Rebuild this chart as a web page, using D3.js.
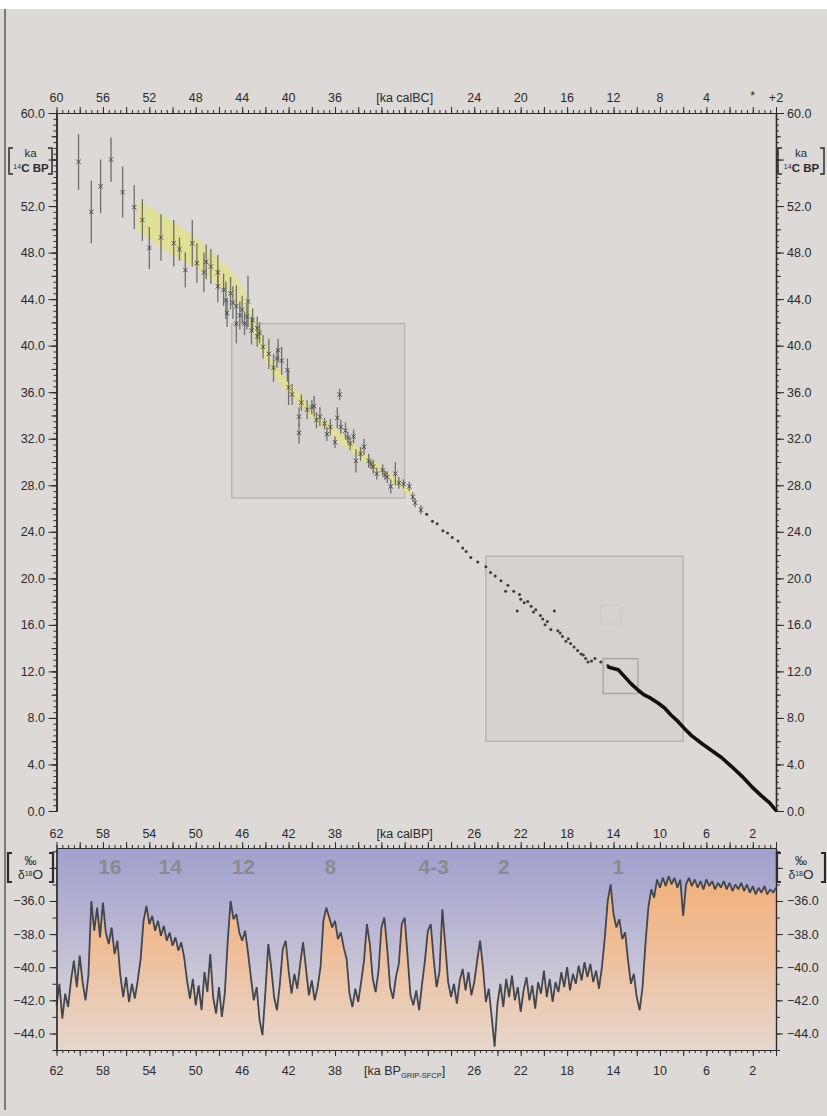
<!DOCTYPE html>
<html>
<head>
<meta charset="utf-8">
<title>14C calibration and GRIP d18O</title>
<style>
  body { margin: 0; background: #dcd9d7; }
  text { font-family: "Liberation Sans", Arial, sans-serif; }
</style>
</head>
<body>
<div id="chart"></div>
<script src="https://cdn.jsdelivr.net/npm/d3@7/dist/d3.min.js"></script>
<script>
// ---- calibration samples: cal age [ka BP], 14C age [ka], error [ka]
var sampleBP = [60.1,59.0,58.2,57.3,56.3,55.3,54.6,54.0,53.0,51.9,51.4,50.9,50.3,49.9,49.3,49.1,48.7,48.1,48.1,47.6,
  47.4,47.0,46.8,46.5,46.0,45.5,45.1,44.7,44.5,
  47.3,46.5,45.8,45.2,44.7,44.2,43.7,43.3,42.9,42.6,42.1,42.0,41.7,41.1,41.1,40.9,40.4,39.8,39.6,39.3,
  38.7,38.4,38.0,37.8,37.6,37.5,37.1,36.7,36.4,36.2,35.8,35.5,35.1,34.7,34.4,33.9,33.5,33.2,32.8,32.5,
  32.1,31.6,31.3,31.1,30.6,40.0,38.9,36.9,34.9,33.7,43.0,45.6,46.2,
  30.1,29.6,29.2,28.7,28.3,27.9,27.4,27.0,26.7,26.3,
  25.7,25.0,24.6,23.7,23.3,23.1,22.6,22.1,22.0,21.7,21.1,20.7,22.3,20.3,20.1,19.7,19.1,19.4,18.8,18.4,
  18.1,17.7,17.4,17.1,16.8,16.4,16.2,15.6,15.1,14.5,24.2,21.4,20.9,19.9,18.6,17.9,16.6,15.9];
var sampleC14 = [55.8,51.5,53.7,56.0,53.2,51.9,50.8,48.4,49.3,48.8,48.3,46.5,48.8,47.1,46.3,47.2,46.8,46.3,45.1,44.8,
  43.9,44.5,43.7,43.4,43.1,43.8,42.2,41.5,41.1,
  42.8,41.9,41.9,41.3,40.8,39.9,39.3,38.1,39.6,38.7,37.9,36.4,35.8,33.9,32.5,35.1,34.5,34.8,33.6,33.9,
  32.4,33.0,31.7,33.8,35.8,33.0,32.7,31.6,32.2,30.1,30.7,31.3,30.1,29.6,29.0,29.3,28.7,27.9,29.0,28.2,
  28.1,27.9,27.0,26.5,25.9,34.7,33.3,32.1,29.8,28.9,38.9,42.5,42.6,
  25.5,24.9,24.7,24.1,23.9,23.5,23.2,22.6,22.3,21.8,
  21.4,21.0,20.5,19.8,18.9,19.4,18.9,18.6,18.2,17.9,17.6,17.3,17.2,16.8,16.5,16.3,17.2,15.6,15.5,15.0,
  14.6,14.4,14.1,13.8,13.5,13.1,12.8,13.1,12.8,12.5,20.2,18.0,17.1,16.0,15.3,14.8,13.4,12.9];
var sampleErr = [2.4,2.7,2.3,1.9,2.2,1.9,1.8,1.8,2.0,2.0,1.0,1.5,2.0,1.7,1.7,1.5,1.5,1.5,1.4,1.4,
  1.6,1.4,1.4,1.8,1.2,2.2,1.0,1.0,0.9,
  1.2,1.7,1.0,1.2,0.9,1.0,1.3,1.2,1.0,1.2,1.0,1.5,0.9,0.8,0.9,0.7,0.8,0.9,0.7,0.8,
  0.6,0.7,0.5,0.9,0.5,0.6,0.7,0.6,0.6,1.0,0.6,0.7,0.6,0.6,0.5,0.5,0.5,0.6,1.0,0.5,
  0.4,0.4,0.4,0.4,0.4,0.6,0.5,0.5,0.4,0.4,0.8,1.1,1.2,
  0.3,0.3,0.3,0.3,0.3,0.3,0.3,0.3,0.3,0.3,
  0.2,0.2,0.2,0.2,0.2,0.2,0.2,0.2,0.2,0.2,0.2,0.2,0.2,0.2,0.2,0.2,0.2,0.2,0.2,0.2,
  0.2,0.2,0.2,0.2,0.2,0.2,0.2,0.2,0.2,0.2,0.2,0.2,0.2,0.2,0.2,0.2,0.2,0.2];

// ---- dense (tree-ring) part of the curve
var denseBP  = [14.4,13.6,13.05,12.5,11.9,11.4,10.8,10.2,9.6,9.05,8.45,7.9,7.3,6.4,5.55,4.7,3.8,2.95,2.1,1.25,0.55,0.0];
var denseC14 = [12.35,12.15,11.55,10.95,10.4,10.0,9.7,9.3,8.85,8.25,7.7,7.1,6.5,5.8,5.2,4.6,3.8,3.0,2.1,1.3,0.7,0.05];

// ---- yellow envelope
var bandBP = [55.0,52.2,48.8,45.6,44.2,40.7,36.4,32.1,31.4];
var bandHi = [52.5,50.8,48.2,44.2,40.5,35.5,31.6,28.1,27.5];
var bandLo = [49.9,47.9,45.8,42.2,39.0,34.5,30.7,27.5,27.0];

// ---- zoom boxes [BP from, BP to, 14C top, 14C bottom]
var boxBP0 = [46.9, 25.0, 14.9, 15.1];
var boxBP1 = [32.0, 8.0, 11.9, 13.4];
var boxTop = [41.9, 21.9, 13.1, 17.7];
var boxBot = [26.9, 6.0, 10.1, 16.1];
var boxStroke = ["#b6b3b1", "#b6b3b1", "#a9a6a4", "#cfccca"];

// ---- GRIP d18O, one value every 0.25 ka from 62 ka BP to 0
var isoStart = 62, isoStep = 0.25;
var isoValues = [
  -42.3,-41.0,-43.1,-41.6,-42.4,-40.8, -39.6,-41.2,-39.3,-40.9,-42.0,-40.5,
  -36.0,-37.8,-36.4,-38.2,-36.1,-37.9, -38.6,-37.6,-39.2,-38.4,-40.5,-41.8,
  -40.6,-42.1,-41.0,-41.9,-40.8,-39.5, -37.2,-36.3,-37.4,-36.9,-37.8,-37.2,
  -38.1,-37.5,-38.4,-37.9,-38.7,-38.2, -39.0,-38.5,-39.4,-40.8,-41.9,-40.7,
  -42.3,-41.1,-42.6,-40.3,-41.5,-39.2, -41.8,-42.8,-41.2,-43.0,-41.6,-38.5,
  -36.0,-37.1,-36.8,-37.9,-38.4,-37.8, -39.1,-40.6,-42.0,-41.2,-43.2,-44.1,
  -41.5,-38.6,-40.0,-41.8,-42.6,-41.0, -38.9,-38.4,-40.2,-41.6,-40.4,-41.3,
  -39.8,-38.5,-40.1,-41.7,-40.8,-42.0, -41.2,-40.0,-37.2,-36.4,-37.0,-37.6,
  -37.2,-38.3,-37.9,-38.8,-39.5,-41.6, -42.4,-41.3,-42.1,-40.9,-39.6,-37.4,
  -38.6,-40.7,-41.5,-40.2,-37.6,-37.0, -38.9,-41.2,-41.9,-40.6,-39.8,-37.4,
  -37.0,-39.3,-41.7,-42.3,-41.4,-42.6, -41.0,-39.6,-37.8,-37.4,-39.5,-41.2,
  -40.3,-36.5,-38.7,-40.9,-41.8,-41.0, -42.2,-40.8,-40.1,-41.4,-40.3,-41.7,
  -40.9,-39.6,-38.4,-40.0,-42.1,-41.3, -43.0,-44.8,-42.2,-41.0,-42.4,-40.7,
  -41.8,-40.5,-42.0,-41.2,-42.7,-41.4, -40.6,-42.0,-41.1,-42.5,-40.9,-41.6,
  -40.2,-41.8,-40.7,-42.1,-40.9,-41.5, -40.3,-41.2,-40.0,-41.4,-40.4,-41.0,
  -39.9,-40.8,-39.7,-40.6,-39.8,-40.9, -40.2,-41.3,-40.0,-38.2,-36.0,-35.0,
  -36.8,-37.6,-37.1,-38.3,-37.9,-39.6, -41.0,-40.4,-41.8,-42.6,-41.2,-38.6,
  -36.4,-35.3,-35.8,-34.7,-35.2,-34.6, -35.1,-34.5,-35.0,-34.6,-35.2,-34.7,
  -36.9,-35.0,-34.6,-35.1,-34.7,-35.2, -34.8,-35.3,-34.7,-35.1,-34.8,-35.3,
  -34.9,-35.2,-34.8,-35.3,-34.9,-35.4, -35.0,-35.3,-34.9,-35.4,-35.0,-35.5,
  -35.1,-35.6,-35.2,-35.5,-35.1,-35.6, -35.3,-35.5,-35.2];

// ---- stage numbers
var stageLabels = ["16","14","12","8","4-3","2","1"];
var stageBP = [57.4, 52.2, 45.9, 38.4, 29.5, 23.45, 13.6];

// ---- tick labels
var bcTicks = [60,56,52,48,44,40,36,24,20,16,12,8,4];
var bpTicks = [62,58,54,50,46,42,38,26,22,18,14,10,6,2];
var c14Ticks = [60,52,48,44,40,36,32,28,24,20,16,12,8,4,0];
var isoTicks = [-36,-38,-40,-42,-44];

var W = 827, H = 1116;
var svg = d3.select("#chart").append("svg").attr("width", W).attr("height", H);

var x = d3.scaleLinear().domain([62, 0]).range([56.5, 776]);
var xBC = d3.scaleLinear().domain([60, -2]).range([56.5, 776]);
var yC = d3.scaleLinear().domain([0, 60]).range([811, 113]);
var yD = d3.scaleLinear().domain([-45, -32.8]).range([1050, 848]);

var ink = "#2b2b2b";

svg.append("rect").attr("width", W).attr("height", H).attr("fill", "#dcd9d7");
svg.append("rect").attr("width", W).attr("height", 9).attr("fill", "#ffffff");
svg.append("line").attr("x1", 5).attr("x2", 5).attr("y1", 9).attr("y2", 1110)
  .attr("stroke", "#5a5a5a").attr("stroke-width", 1.5);

// ---------------- main chart ----------------
var boxes = d3.range(boxBP0.length);
svg.append("g").selectAll("rect").data(boxes).enter().append("rect")
  .attr("x", function(i) { return x(boxBP0[i]); })
  .attr("y", function(i) { return yC(boxTop[i]); })
  .attr("width", function(i) { return x(boxBP1[i]) - x(boxBP0[i]); })
  .attr("height", function(i) { return yC(boxBot[i]) - yC(boxTop[i]); })
  .attr("fill", function(i) { return i < 2 ? "#d5d2d0" : "none"; })
  .attr("stroke", function(i) { return boxStroke[i]; })
  .attr("stroke-width", 1.4);

var band = d3.area()
  .x(function(i) { return x(bandBP[i]); })
  .y0(function(i) { return yC(bandLo[i]); })
  .y1(function(i) { return yC(bandHi[i]); })
  .curve(d3.curveMonotoneX);
svg.append("path").datum(d3.range(bandBP.length)).attr("d", band)
  .attr("fill", "#e2e08e").attr("opacity", 0.85);

var idx = d3.range(sampleBP.length);
var bars = idx.filter(function(i) { return sampleErr[i] > 0.3; });
var dots = idx.filter(function(i) { return sampleErr[i] <= 0.3; });

svg.append("g").selectAll("line").data(bars).enter().append("line")
  .attr("x1", function(i) { return x(sampleBP[i]); })
  .attr("x2", function(i) { return x(sampleBP[i]); })
  .attr("y1", function(i) { return yC(sampleC14[i] + sampleErr[i]); })
  .attr("y2", function(i) { return yC(sampleC14[i] - sampleErr[i]); })
  .attr("stroke", "#6f6f6f").attr("stroke-width", 1.3);

var cross = d3.symbol().type(d3.symbolX).size(14);
svg.append("g").selectAll("path").data(bars).enter().append("path")
  .attr("d", cross)
  .attr("transform", function(i) { return "translate(" + x(sampleBP[i]) + "," + yC(sampleC14[i]) + ")"; })
  .attr("fill", "none").attr("stroke", "#4a4a4a").attr("stroke-width", 1);

svg.append("g").selectAll("circle").data(dots).enter().append("circle")
  .attr("cx", function(i) { return x(sampleBP[i]); })
  .attr("cy", function(i) { return yC(sampleC14[i]); })
  .attr("r", 1.5).attr("fill", "#3d3d3d");

var dense = d3.line()
  .x(function(i) { return x(denseBP[i]); })
  .y(function(i) { return yC(denseC14[i]); });
svg.append("path").datum(d3.range(denseBP.length)).attr("d", dense)
  .attr("fill", "none").attr("stroke", "#111").attr("stroke-width", 3.6)
  .attr("stroke-linejoin", "round").attr("stroke-linecap", "round");

// ---------------- lower panel ----------------
var defs = svg.append("defs");
var g1 = defs.append("linearGradient").attr("id", "sky").attr("gradientUnits", "userSpaceOnUse")
  .attr("x1", 0).attr("x2", 0).attr("y1", 848).attr("y2", 1050);
g1.append("stop").attr("offset", 0).attr("stop-color", "#a19fcd");
g1.append("stop").attr("offset", 0.4).attr("stop-color", "#bab7d3");
g1.append("stop").attr("offset", 0.75).attr("stop-color", "#d3cfd7");
g1.append("stop").attr("offset", 1).attr("stop-color", "#dcd7d4");
var g2 = defs.append("linearGradient").attr("id", "warm").attr("gradientUnits", "userSpaceOnUse")
  .attr("x1", 0).attr("x2", 0).attr("y1", 860).attr("y2", 1050);
g2.append("stop").attr("offset", 0).attr("stop-color", "#f1ae77");
g2.append("stop").attr("offset", 0.45).attr("stop-color", "#efbd97");
g2.append("stop").attr("offset", 1).attr("stop-color", "#e6d7cd");

svg.append("rect").attr("x", x(62)).attr("y", yD(-32.8))
  .attr("width", x(0) - x(62)).attr("height", yD(-45) - yD(-32.8))
  .attr("fill", "url(#sky)");

var iso = isoValues.map(function(v, i) { return { bp: isoStart - i * isoStep, v: v }; });
svg.append("path").datum(iso)
  .attr("d", d3.area().x(function(d) { return x(d.bp); }).y0(yD(-45)).y1(function(d) { return yD(d.v); }))
  .attr("fill", "url(#warm)");
svg.append("path").datum(iso)
  .attr("d", d3.line().x(function(d) { return x(d.bp); }).y(function(d) { return yD(d.v); }))
  .attr("fill", "none").attr("stroke", "#41464f").attr("stroke-width", 1.8).attr("stroke-linejoin", "bevel");

svg.append("g").selectAll("text").data(stageLabels).enter().append("text")
  .attr("x", function(d, i) { return x(stageBP[i]); }).attr("y", 874)
  .attr("text-anchor", "middle").attr("font-size", 21).attr("font-weight", "bold")
  .attr("fill", "#8b8a8c").text(function(d) { return d; });

// ---------------- axes ----------------
function tickSet(gen, scale, vals, size, tr) {
  var g = svg.append("g").attr("transform", tr)
    .call(gen(scale).tickValues(vals).tickSize(size).tickSizeOuter(0).tickFormat(""));
  g.selectAll("line").attr("stroke", ink);
  g.select(".domain").attr("stroke", ink).attr("stroke-width", 1.2);
  return g;
}
var half = d3.range(0, 62.01, 0.5), two = d3.range(0, 62.01, 2);
[["axisTop", 113], ["axisTop", 848], ["axisBottom", 1050]].forEach(function(a) {
  tickSet(d3[a[0]], x, half, 3, "translate(0," + a[1] + ")");
  tickSet(d3[a[0]], x, two, 6, "translate(0," + a[1] + ")");
});
var cHalf = d3.range(0, 60.01, 0.5), cTwo = d3.range(0, 60.01, 2), cFour = d3.range(0, 60.01, 4);
[["axisLeft", 56.5], ["axisRight", 776]].forEach(function(a) {
  var tr = "translate(" + a[1] + ",0)";
  tickSet(d3[a[0]], yC, cHalf, 3, tr);
  tickSet(d3[a[0]], yC, cTwo, 5, tr);
  tickSet(d3[a[0]], yC, cFour, 8, tr);
  tickSet(d3[a[0]], yD, d3.range(-45, -32.9, 1), 4, tr);
  tickSet(d3[a[0]], yD, d3.range(-44, -33, 2), 7, tr);
});

function label(px, py, txt, anchor) {
  return svg.append("text").attr("x", px).attr("y", py).attr("text-anchor", anchor || "middle")
    .attr("font-size", 12.5).attr("fill", ink).text(txt);
}
bcTicks.forEach(function(v) { label(xBC(v), 102, v); });
label(xBC(0), 100, "*");
label(xBC(-2), 102, "+2");
label(xBC(30), 102, "[ka calBC]");
bpTicks.forEach(function(v) { label(x(v), 838, v); label(x(v), 1075, v); });
label(x(32), 838, "[ka calBP]");
var sub = label(x(32), 1075, "[ka BP");
sub.append("tspan").attr("font-size", 7.5).attr("dy", 3).text("GRIP-SFCP");
sub.append("tspan").attr("dy", -3).text("]");

c14Ticks.forEach(function(v) {
  label(45, yC(v) + 4.5, d3.format(".1f")(v), "end");
  label(787, yC(v) + 4.5, d3.format(".1f")(v), "start");
});
isoTicks.forEach(function(v) {
  label(45, yD(v) + 4.5, d3.format(".1f")(v), "end");
  label(787, yD(v) + 4.5, d3.format(".1f")(v), "start");
});

// bracketed unit labels
function bracket(x0, y0, y1, dir, w) {
  svg.append("path")
    .attr("d", "M" + (x0 + dir * 4) + "," + y0 + "H" + x0 + "V" + y1 + "H" + (x0 + dir * 4))
    .attr("fill", "none").attr("stroke", ink).attr("stroke-width", w);
}
[[9, 52, 30.5], [778, 824, 801]].forEach(function(p) {
  bracket(p[0], 148, 174, 1, 1.5);
  bracket(p[1], 148, 174, -1, 1.5);
  label(p[2], 157, "ka").attr("font-size", 11.5);
  var t = label(p[2] + 0.5, 171.5, "").attr("font-size", 11.5);
  t.append("tspan").attr("font-size", 7).attr("dy", -3).text("14");
  t.append("tspan").attr("dy", 3).attr("font-weight", "bold").text("C BP");
  bracket(p[0] - 1, 853, 882, 1, 2.2);
  bracket(p[1] + 1, 853, 882, -1, 2.2);
  label(p[2], 865, "\u2030").attr("font-size", 12);
  var d = label(p[2], 879, "\u03b4").attr("font-size", 12);
  d.append("tspan").attr("font-size", 7).attr("dy", -3).text("18");
  d.append("tspan").attr("dy", 3).attr("font-size", 13.5).text("O");
});
</script>
</body>
</html>
